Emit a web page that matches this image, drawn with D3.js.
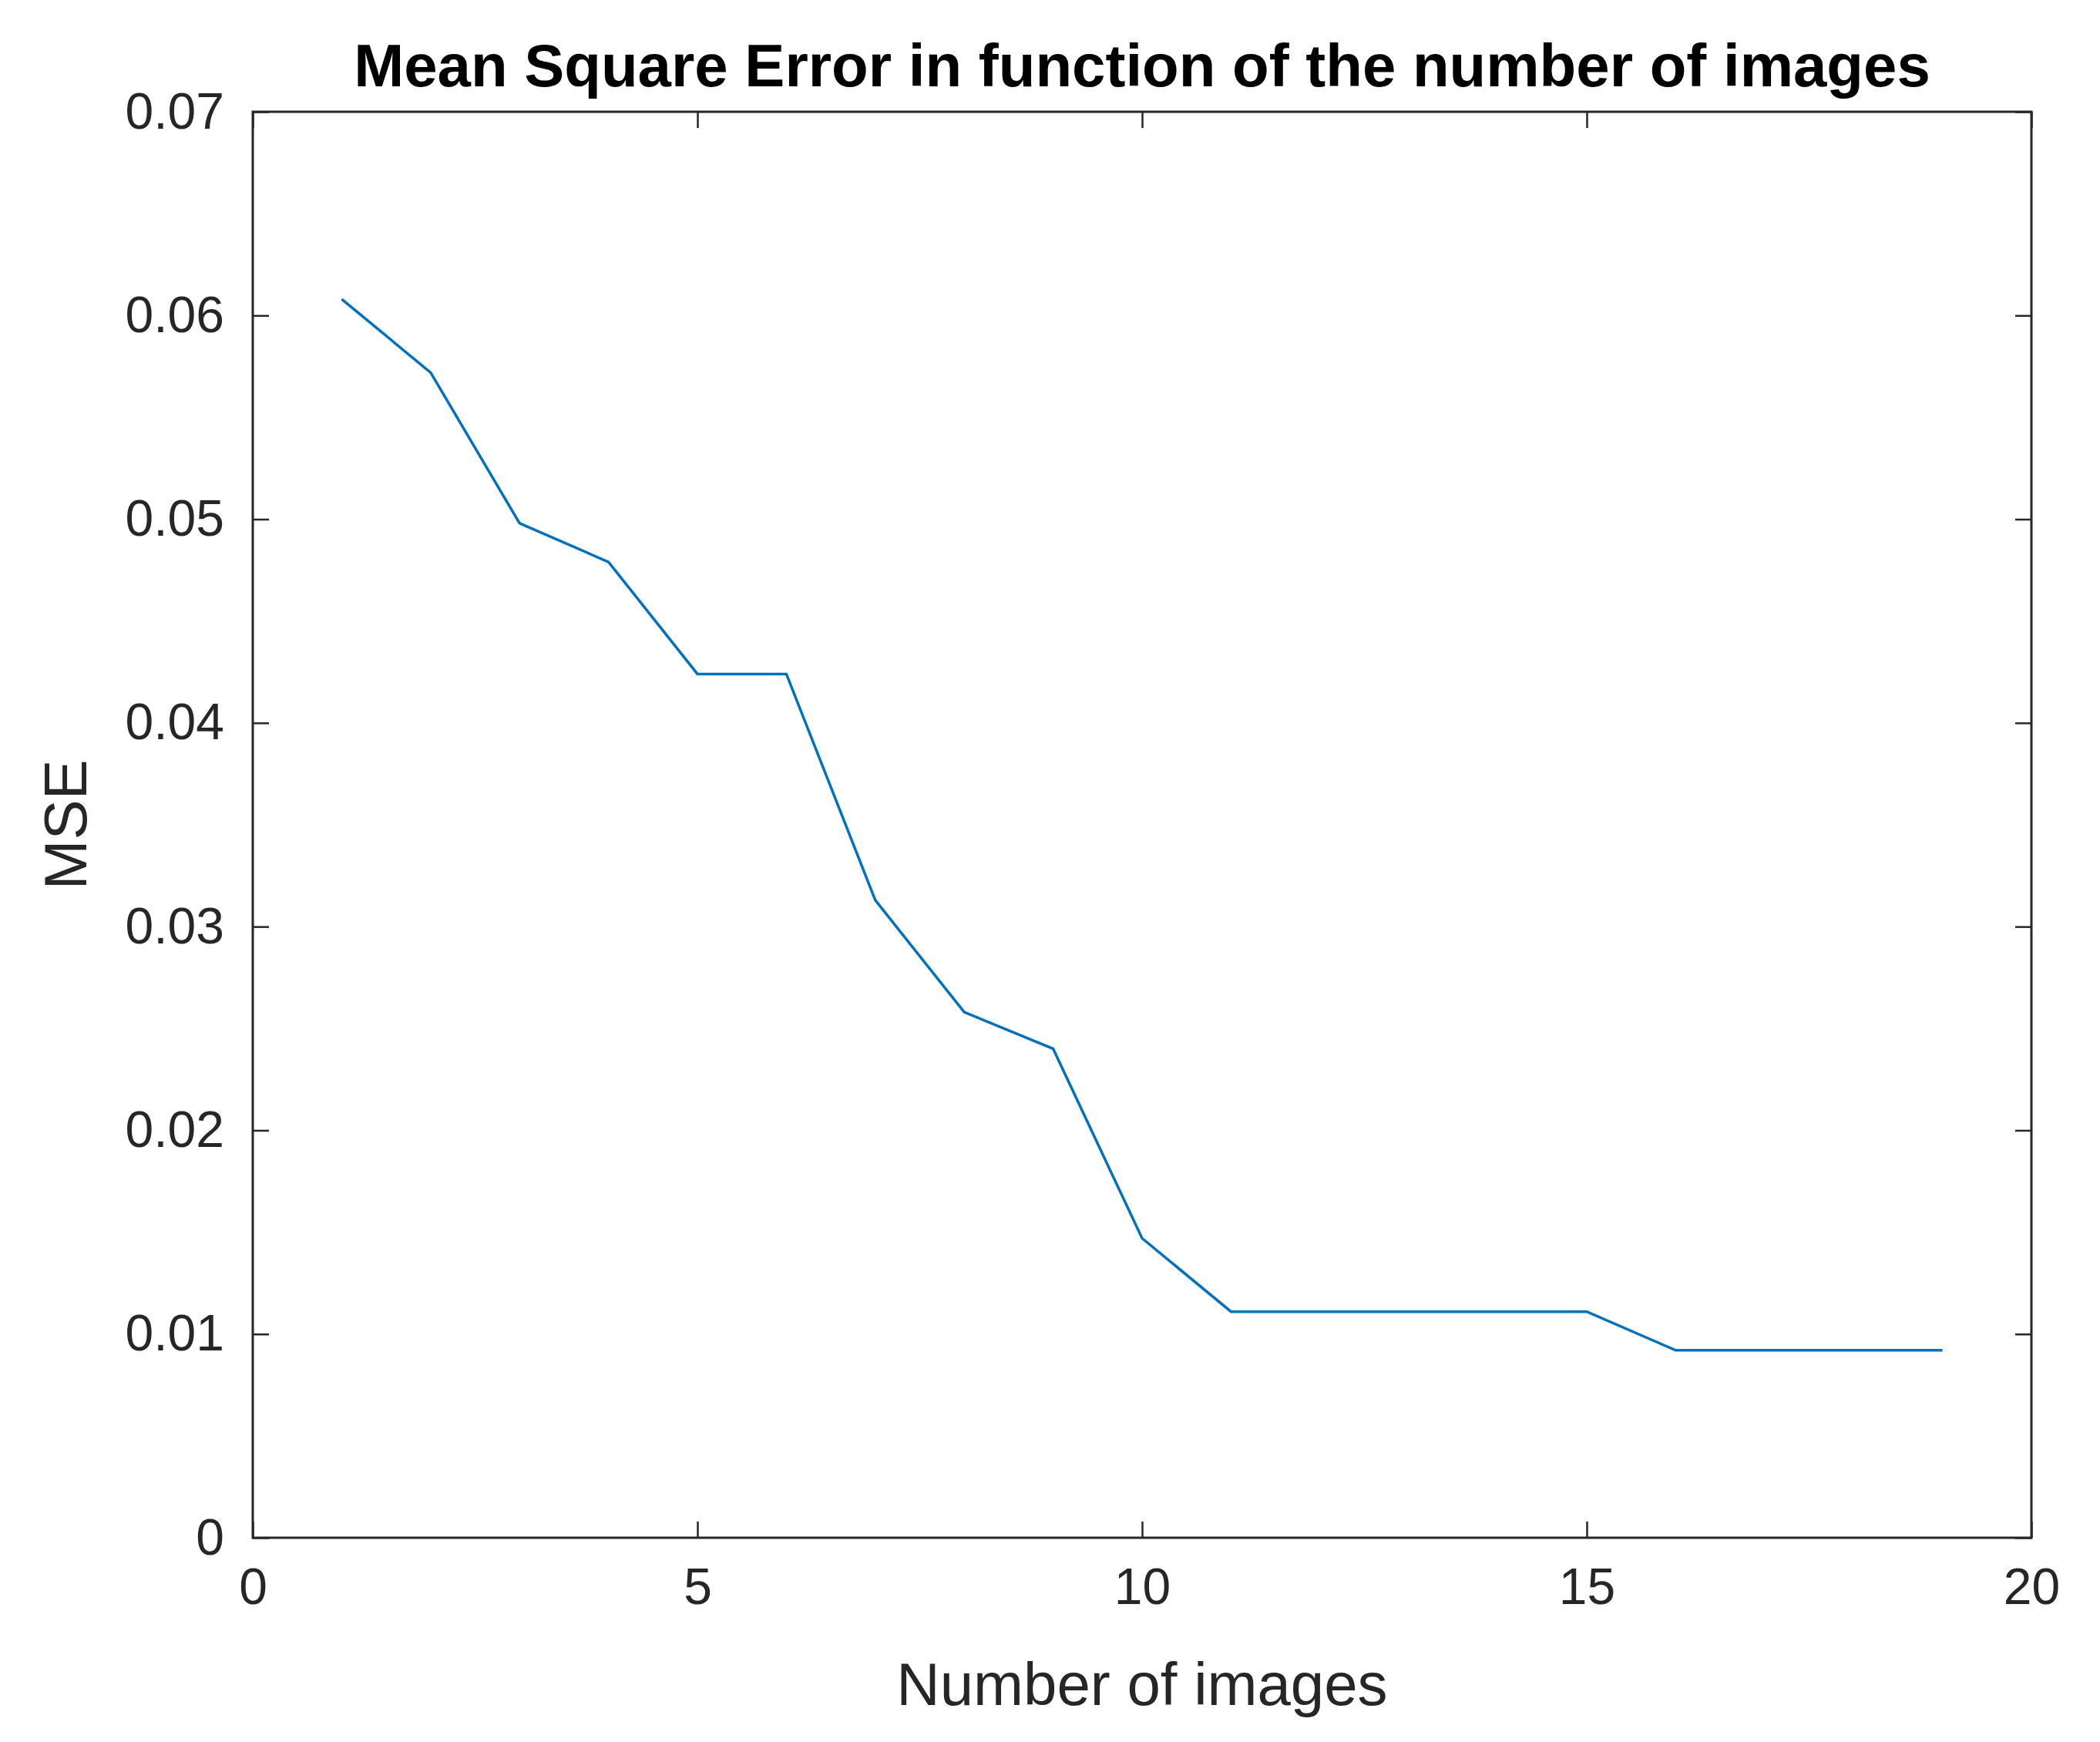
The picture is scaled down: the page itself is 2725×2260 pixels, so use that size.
<!DOCTYPE html>
<html>
<head>
<meta charset="utf-8">
<script src="https://cdn.jsdelivr.net/npm/d3@7"></script>
<style>
  body { margin: 0; background: #fff; }
  text { font-family: "Liberation Sans", Arial, sans-serif; fill: #262626; }
</style>
</head>
<body>
<div id="chart"></div>
<script>
// data
const images = [1, 2, 3, 4, 5, 6, 7, 8, 9, 10, 11, 12, 13, 14, 15, 16, 17, 18, 19];
const mse = [0.0608, 0.0572, 0.0498, 0.0479, 0.0424, 0.0424, 0.0313, 0.0258, 0.0240, 0.0147,
             0.0111, 0.0111, 0.0111, 0.0111, 0.0111, 0.0092, 0.0092, 0.0092, 0.0092];
const xTicks = [0, 5, 10, 15, 20];
const yTicks = [0, 0.01, 0.02, 0.03, 0.04, 0.05, 0.06, 0.07];

const W = 2725, H = 2260;
const margin = {top: 145, right: 89, bottom: 265, left: 328};
const width = W - margin.left - margin.right,
      height = H - margin.top - margin.bottom;

const svg = d3.select("#chart").append("svg")
    .attr("width", W).attr("height", H);
const g = svg.append("g")
    .attr("transform", `translate(${margin.left},${margin.top})`);

const x = d3.scaleLinear().domain([0, 20]).range([0, width]);
const y = d3.scaleLinear().domain([0, 0.07]).range([height, 0]);

const fmtY = d => d === 0 ? "0" : d3.format(".2f")(d);
const tk = 21;

// axes with inward ticks, mirrored on top/right
const styleAxis = sel => {
  sel.select(".domain").remove();
  sel.selectAll("line").attr("stroke", "#262626").attr("stroke-width", 2.5);
  sel.selectAll("text").style("font-size", "66px");
};
g.append("g").attr("transform", `translate(0,${height})`)
  .call(d3.axisBottom(x).tickValues(xTicks).tickSize(-tk).tickPadding(tk + 18).tickFormat(d3.format("d")))
  .call(styleAxis);
g.append("g")
  .call(d3.axisTop(x).tickValues(xTicks).tickSize(-tk).tickFormat(""))
  .call(styleAxis);
g.append("g")
  .call(d3.axisLeft(y).tickValues(yTicks).tickSize(-tk).tickPadding(tk + 16).tickFormat(fmtY))
  .call(styleAxis);
g.append("g").attr("transform", `translate(${width},0)`)
  .call(d3.axisRight(y).tickValues(yTicks).tickSize(-tk).tickFormat(""))
  .call(styleAxis);

g.append("rect").attr("width", width).attr("height", height)
  .attr("fill", "none").attr("stroke", "#262626").attr("stroke-width", 3);

const line = d3.line().x((d, i) => x(images[i])).y(d => y(d));
g.append("path").datum(mse)
  .attr("d", line).attr("fill", "none")
  .attr("stroke", "#0072BD").attr("stroke-width", 3.5);

svg.append("text").attr("x", margin.left + width / 2).attr("y", 112)
  .attr("text-anchor", "middle").style("font-size", "78px").style("font-weight", "bold")
  .style("fill", "#000")
  .text("Mean Square Error in function of the number of images");

svg.append("text").attr("x", margin.left + width / 2).attr("y", 2212)
  .attr("text-anchor", "middle").style("font-size", "78px")
  .text("Number of images");

svg.append("text").attr("transform", `translate(112,${margin.top + (H - margin.top - margin.bottom) / 2}) rotate(-90)`)
  .attr("text-anchor", "middle").style("font-size", "78px")
  .text("MSE");
</script>
</body>
</html>
